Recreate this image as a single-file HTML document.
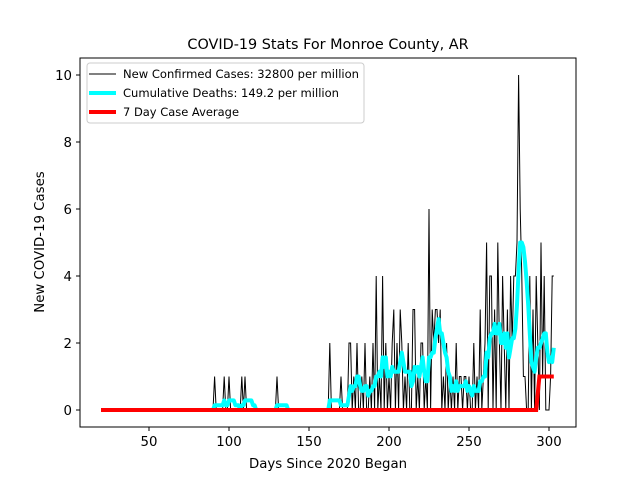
<!DOCTYPE html>
<html><head><meta charset="utf-8"><style>
body{margin:0;background:#fff}
svg text{font-family:"DejaVu Sans","Liberation Sans",sans-serif}
</style></head><body>
<svg id="chart" width="640" height="480" xmlns="http://www.w3.org/2000/svg">
<rect width="640" height="480" fill="#fff"/>
<text x="328" y="49" font-size="14.4" text-anchor="middle">COVID-19 Stats For Monroe County, AR</text>
<g id="plot"></g>
<rect x="80" y="58" width="496" height="369" fill="none" stroke="#000" stroke-width="1"/>
<g id="ticks"></g>
<text x="328" y="468" font-size="13.3" text-anchor="middle">Days Since 2020 Began</text>
<text transform="translate(44,242) rotate(-90)" font-size="13.3" text-anchor="middle">New COVID-19 Cases</text>
<g>
<rect x="87" y="63" width="277" height="60" rx="3" fill="#fff" fill-opacity="0.8" stroke="#ccc"/>
<line x1="89" y1="74" x2="116" y2="74" stroke="#000" stroke-width="1"/>
<text x="123" y="78" font-size="11.5" textLength="236" lengthAdjust="spacingAndGlyphs">New Confirmed Cases: 32800 per million</text>
<line x1="89" y1="93" x2="116" y2="93" stroke="#00ffff" stroke-width="4"/>
<text x="123" y="97" font-size="11.5" textLength="216" lengthAdjust="spacingAndGlyphs">Cumulative Deaths: 149.2 per million</text>
<line x1="89" y1="112" x2="116" y2="112" stroke="#ff0000" stroke-width="4"/>
<text x="123" y="116" font-size="11.5" textLength="116" lengthAdjust="spacingAndGlyphs">7 Day Case Average</text>
</g>
</svg>
<script>
const startDay = 20, endDay = 303;
const caseDays = [91,97,100,108,110,130,163,170,175,176,178,180,183,185,188,190,192,194,196,198,200,202,203,205,207,208,210,212,215,216,218,220,221,223,225,227,228,229,230,231,232,234,236,238,240,242,244,245,247,248,250,253,255,257,259,260,261,263,264,266,268,269,271,272,274,276,277,278,279,280,281,282,283,284,285,288,290,292,293,295,296,297,301,302,303];
const caseValues = [1,1,1,1,1,1,2,1,2,2,1,2,1,2,1,2,4,1,4,2,1,2,3,2,3,2,1,2,3,3,1,2,2,1,6,3,2,3,3,2,3,1,2,1,1,2,1,1,1,1,1,2,1,3,1,2,5,4,4,3,5,2,4,2,3,4,2,4,4,5,10,6,4,1,1,4,3,4,2,5,1,4,1,4,4];
const avgDays = [20,292,294,303];
const avgValues = [0,0,1,1];
const xTicks = [50,100,150,200,250,300];
const yTicks = [0,2,4,6,8,10];
const X = d => 69 + (d) * 1.6;
const Y = v => 410 - v * 33.5;
const NS = "http://www.w3.org/2000/svg";
const plot = document.getElementById('plot');
const ticks = document.getElementById('ticks');
const daily = [];
for (let d = startDay; d <= endDay; d++) daily.push(0);
caseDays.forEach((d, i) => { daily[d - startDay] = caseValues[i]; });
const roll = daily.map((v, i) => { let s = 0; for (let k = Math.max(0, i - 6); k <= i; k++) { s += daily[k]; } return s / 7; });
let segs = [], cur = [];
roll.forEach((v, i) => { const d = startDay + i; if (v > 0 || (i > 0 && roll[i-1] > 0) || (i < roll.length-1 && roll[i+1] > 0)) { cur.push(X(d).toFixed(1) + ',' + Y(v).toFixed(1)); } else if (cur.length) { segs.push(cur); cur = []; } });
if (cur.length) segs.push(cur);
segs.forEach(s => {
  const p = document.createElementNS(NS, 'polyline');
  
  
  p.setAttribute('points', s.join(' '));
  p.setAttribute('fill', 'none'); p.setAttribute('stroke', '#00ffff'); p.setAttribute('stroke-width', '4'); p.setAttribute('stroke-linejoin', 'round');
  plot.appendChild(p);
});
const cl = document.createElementNS(NS, 'polyline');


cl.setAttribute('points', daily.map((v, i) => X(startDay + i).toFixed(1) + ',' + Y(v).toFixed(1)).join(' '));
cl.setAttribute('fill', 'none'); cl.setAttribute('stroke', '#000'); cl.setAttribute('stroke-width', '1');
plot.insertBefore(cl, plot.firstChild);
const rl = document.createElementNS(NS, 'polyline');


rl.setAttribute('points', avgDays.map((d, i) => X(d).toFixed(1) + ',' + Y(avgValues[i]).toFixed(1)).join(' '));
rl.setAttribute('fill', 'none'); rl.setAttribute('stroke', '#ff0000'); rl.setAttribute('stroke-width', '4');
plot.appendChild(rl);
xTicks.forEach(t => {
  const l = document.createElementNS(NS, 'line');
  
  
  l.setAttribute('x1', X(t)); l.setAttribute('x2', X(t)); l.setAttribute('y1', 427); l.setAttribute('y2', 431); l.setAttribute('stroke', '#000');
  ticks.appendChild(l);
  const tx = document.createElementNS(NS, 'text');
  
  
  tx.setAttribute('x', X(t)); tx.setAttribute('y', 446); tx.setAttribute('font-size', '13.3'); tx.setAttribute('text-anchor', 'middle');
  tx.textContent = t; ticks.appendChild(tx);
});
yTicks.forEach(t => {
  const l = document.createElementNS(NS, 'line');
  
  
  l.setAttribute('x1', 76); l.setAttribute('x2', 80); l.setAttribute('y1', Y(t)); l.setAttribute('y2', Y(t)); l.setAttribute('stroke', '#000');
  ticks.appendChild(l);
  const tx = document.createElementNS(NS, 'text');
  
  
  tx.setAttribute('x', 72); tx.setAttribute('y', Y(t) + 5); tx.setAttribute('font-size', '13.3'); tx.setAttribute('text-anchor', 'end');
  tx.textContent = t; ticks.appendChild(tx);
});
</script>
</body></html>
